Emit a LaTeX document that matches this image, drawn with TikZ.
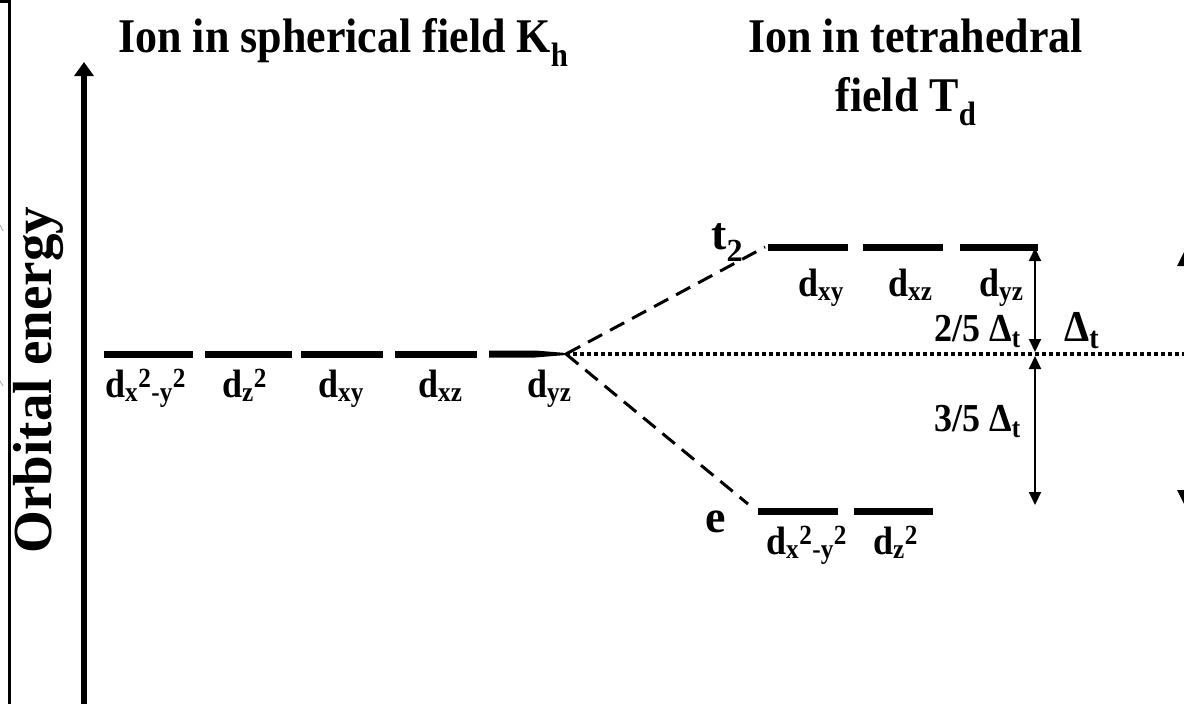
\documentclass[tikz,border=0pt]{standalone}
\usepackage{graphicx}
\usepackage{fontspec}
\setmainfont{Liberation Serif}
\usetikzlibrary{arrows.meta}
\tikzset{
  lvl/.style={line width=7pt},
  lbl/.style={font=\fontsize{36}{36}\selectfont\bfseries, inner sep=0pt, anchor=base west},
  big/.style={font=\fontsize{46}{46}\selectfont\bfseries, inner sep=0pt, anchor=base west},
  ttl/.style={font=\fontsize{44}{44}\selectfont\bfseries, inner sep=0pt, anchor=base west},
  corr/.style={line width=3pt, dash pattern=on 16pt off 9pt},
  dots/.style={line width=3.5pt, dash pattern=on 3.5pt off 3.5pt},
  dimarrow/.style={line width=2pt, {Triangle[length=13pt,width=12pt]}-{Triangle[length=13pt,width=12pt]}},
}
\newcommand{\vst}[1]{\scalebox{1}[1.1]{#1}}
\newcommand{\dsub}[1]{\vst{d\textsubscript{#1}}}
\newcommand{\dxy}{\vst{d\textsubscript{x}\textsuperscript{2}\textsubscript{-y}\textsuperscript{2}}}
\newcommand{\dzz}{\vst{d\textsubscript{z}\textsuperscript{2}}}
\begin{document}
\begin{tikzpicture}[x=1pt,y=-1pt]
\useasboundingbox (0,0) rectangle (1184,704);
% left frame fragment
\draw[line width=3.5pt] (0,1.5) -- (9.5,1.5) -- (9.5,704);
\draw[gray!60, line width=1pt] (0,225) -- (3,231);
\draw[gray!60, line width=1pt] (0,381) -- (3,386);
% energy axis
\coordinate (ax0) at (84,704);
\coordinate (ax1) at (84,62);
\draw[line width=5.5pt, -{Triangle[length=14pt,width=19pt]}] (ax0) -- (ax1);
\node[rotate=90, font=\fontsize{55}{55}\selectfont\bfseries, inner sep=0pt] (ylab) at (38,380) {Orbital energy};
% titles
\node[ttl] (title1) at (118,52) {\vst{Ion in spherical field K\textsubscript{h}}};
\node[ttl] (title2a) at (748,52) {\vst{Ion in tetrahedral}};
\node[ttl, anchor=base] (title2b) at (906,111) {\vst{field T\textsubscript{d}}};
% spherical levels
\coordinate (J) at (566,354);
\draw[lvl] (104,354) -- (193,354);
\draw[lvl] (205,354) -- (292,354);
\draw[lvl] (301,354) -- (383,354);
\draw[lvl] (395,354) -- (477,354);
\fill (489,350.5) -- (535,350.5) -- (566,353) -- (566,355) -- (535,357.5) -- (489,357.5) -- cycle;
\node[lbl] (s1) at (105,397) {\dxy};
\node[lbl] (s2) at (222,397) {\dzz};
\node[lbl] (s3) at (318,397) {\dsub{xy}};
\node[lbl] (s4) at (418,397) {\dsub{xz}};
\node[lbl] (s5) at (527,397) {\dsub{yz}};
% t2 levels
\coordinate (T) at (765,247);
\draw[lvl] (768,247) -- (848,247);
\draw[lvl] (863,247) -- (943,247);
\draw[lvl] (960,247) -- (1038,247);
\node[big] (t2lab) at (711,249) {t\textsubscript{2}};
\node[lbl] (t1) at (798,296) {\dsub{xy}};
\node[lbl] (t2) at (888,296) {\dsub{xz}};
\node[lbl] (t3) at (979,296) {\dsub{yz}};
% e levels
\coordinate (E) at (748,504);
\draw[lvl] (758,511) -- (838,511);
\draw[lvl] (854,511) -- (933,511);
\node[big] (elab) at (705,532) {e};
\node[lbl] (e1) at (766,554) {\dxy};
\node[lbl] (e2) at (873,554) {\dzz};
% correlation lines
\draw[corr] (J) -- (T);
\draw[corr] (J) -- (E);
\coordinate (R) at (1184,354);
\draw[dots] (J) -- (R);
% splitting arrows
\coordinate (a1) at (1035,248);
\coordinate (a2) at (1035,352);
\coordinate (a3) at (1035,356);
\coordinate (a4) at (1035,505);
\draw[dimarrow] (a1) -- (a2);
\draw[dimarrow] (a3) -- (a4);
\node[lbl, anchor=base east] (f25) at (1021,341) {\vst{2/5 Δ\textsubscript{t}}};
\node[lbl, anchor=base east] (f35) at (1021,431) {\vst{3/5 Δ\textsubscript{t}}};
\node[lbl, font=\fontsize{40}{40}\selectfont\bfseries] (dt) at (1064,341) {\vst{Δ\textsubscript{t}}};
% cut arrowheads at right edge
\fill (1177,266) -- (1184,252) -- (1184,266) -- cycle;
\fill (1177,490) -- (1184,490) -- (1184,504) -- cycle;
\end{tikzpicture}
\end{document}
